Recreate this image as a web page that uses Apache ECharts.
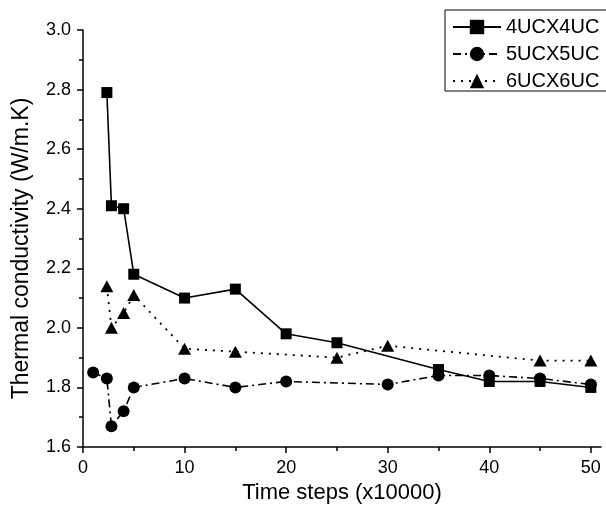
<!DOCTYPE html>
<html>
<head>
<meta charset="utf-8">
<script src="https://cdn.jsdelivr.net/npm/echarts@6/dist/echarts.min.js"></script>
<style>
html,body{margin:0;padding:0;background:#fff;}
#chart{width:606px;height:514px;}
</style>
</head>
<body>
<div id="chart"></div>
<script>
// ---- data ----
const seriesNames = ['4UCX4UC', '5UCX5UC', '6UCX6UC'];
const x4 = [2.35, 2.8, 4, 5, 10, 15, 20, 25, 35, 40, 45, 50];
const y4 = [2.79, 2.41, 2.40, 2.18, 2.10, 2.13, 1.98, 1.95, 1.86, 1.82, 1.82, 1.80];
const x5 = [1, 2.35, 2.8, 4, 5, 10, 15, 20, 30, 35, 40, 45, 50];
const y5 = [1.85, 1.83, 1.67, 1.72, 1.80, 1.83, 1.80, 1.82, 1.81, 1.84, 1.84, 1.83, 1.81];
const x6 = [2.35, 2.8, 4, 5, 10, 15, 25, 30, 45, 50];
const y6 = [2.14, 2.00, 2.05, 2.11, 1.93, 1.92, 1.90, 1.94, 1.89, 1.89];
const xMajorTicks = [0, 10, 20, 30, 40, 50];
const xMinorTicks = [5, 15, 25, 35, 45];
const xTitle = 'Time steps (x10000)';
const yTitle = 'Thermal conductivity (W/m.K)';

const pairs = (xs, ys) => xs.map((x, i) => [x, ys[i]]);
const FONT = 'Liberation Sans, Arial, sans-serif';

const chart = echarts.init(document.getElementById('chart'), null, {renderer: 'canvas'});
const xMin = 0, xMax = 51;
chart.setOption({
  animation: false,
  backgroundColor: '#ffffff',
  grid: {left: 83, right: 5, top: 30, bottom: 67, containLabel: false, outerBoundsMode: 'none'},
  legend: {
    left: 445, top: 10,
    orient: 'vertical',
    padding: [7, 24, 0, 7],
    itemWidth: 48, itemHeight: 18, itemGap: 7,
    borderColor: '#000', borderWidth: 1, borderRadius: 0,
    backgroundColor: '#fff',
    textStyle: {fontFamily: FONT, fontSize: 20, color: '#000', lineHeight: 18},
    data: seriesNames
  },
  xAxis: [{
    type: 'value', min: xMin, max: xMax,
    axisLine: {show: true, lineStyle: {color: '#000', width: 1.5}},
    axisTick: {show: true, inside: false, length: 6, lineStyle: {color: '#000', width: 1.5}, customValues: xMajorTicks},
    axisLabel: {color: '#000', fontFamily: FONT, fontSize: 18, margin: 12, customValues: xMajorTicks},
    splitLine: {show: false},
    name: xTitle, nameLocation: 'middle', nameGap: 30,
    nameTextStyle: {fontFamily: FONT, fontSize: 22, color: '#000'}
  }, {
    type: 'value', min: xMin, max: xMax, position: 'bottom',
    axisLine: {show: false},
    axisTick: {show: true, inside: false, length: 4, lineStyle: {color: '#000', width: 1.5}, customValues: xMinorTicks},
    axisLabel: {show: false},
    splitLine: {show: false}
  }],
  yAxis: {
    type: 'value', min: 1.6, max: 3.0, interval: 0.2,
    axisLine: {show: true, lineStyle: {color: '#000', width: 1.5}},
    axisTick: {show: true, inside: false, length: 6, lineStyle: {color: '#000', width: 1.5}},
    minorTick: {show: true, splitNumber: 2, length: 4, lineStyle: {color: '#000', width: 1.5}},
    axisLabel: {color: '#000', fontFamily: FONT, fontSize: 18, margin: 12, formatter: v => v.toFixed(1)},
    splitLine: {show: false},
    name: yTitle, nameLocation: 'middle', nameGap: 50, nameRotate: 90,
    nameTextStyle: {fontFamily: FONT, fontSize: 23, color: '#000', padding: [0, 20, 0, 0]}
  },
  series: [{
    name: seriesNames[0], type: 'line', xAxisIndex: 0,
    data: pairs(x4, y4),
    symbol: 'rect', symbolSize: 11,
    itemStyle: {color: '#000'},
    lineStyle: {color: '#000', width: 1.6, type: 'solid'}
  }, {
    name: seriesNames[1], type: 'line', xAxisIndex: 0,
    data: pairs(x5, y5),
    symbol: 'circle', symbolSize: 12,
    itemStyle: {color: '#000'},
    lineStyle: {color: '#000', width: 1.6, type: [8, 4, 2, 4]}
  }, {
    name: seriesNames[2], type: 'line', xAxisIndex: 0,
    data: pairs(x6, y6),
    symbol: 'triangle', symbolSize: [13, 12],
    itemStyle: {color: '#000'},
    lineStyle: {color: '#000', width: 1.8, type: [2, 6]}
  }]
});
</script>
</body>
</html>
